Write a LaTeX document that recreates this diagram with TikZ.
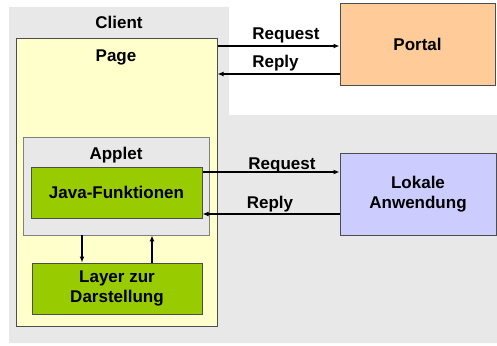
\documentclass[tikz,border=0pt]{standalone}
\usepackage{fontspec}
\setmainfont{Liberation Sans}
\usetikzlibrary{arrows.meta}
\definecolor{bggrey}{HTML}{E8E8E8}
\definecolor{pageyellow}{HTML}{FFFFCC}
\definecolor{jgreen}{HTML}{99CC00}
\definecolor{portalc}{HTML}{FFCC99}
\definecolor{lokalc}{HTML}{CCCCFF}
\definecolor{edgec}{HTML}{4D4D4D}
\tikzset{
  lbl/.style={anchor=base, inner sep=0pt, font=\fontsize{17}{20}\selectfont\bfseries},
  boxnode/.style={draw=edgec, line width=1pt, inner sep=0pt, align=center,
     font=\fontsize{17}{20.5}\selectfont\bfseries},
  arr/.style={line width=1.2pt, -{Latex[length=6pt,width=5pt]}},
}
\begin{document}
\begin{tikzpicture}[x=1pt,y=-1pt]
\useasboundingbox (0,0) rectangle (497,345);
% grey background
\fill[bggrey] (9,7) -- (229,7) -- (229,115) -- (497,115) -- (497,343) -- (9,343) -- cycle;
% page
\node[boxnode, fill=pageyellow, minimum width=201pt, minimum height=287pt] (page) at (116.5,182.5) {};
% applet
\node[draw=gray, line width=0.8pt, fill=bggrey, minimum width=186pt, minimum height=98pt, inner sep=0pt] (applet) at (116,186) {};
% java
\node[boxnode, fill=jgreen, minimum width=171pt, minimum height=51pt] (java) at (116.5,192.5) {Java-Funktionen};
% layer
\node[boxnode, fill=jgreen, minimum width=170pt, minimum height=51pt] (layer) at (117,288.5) {Layer zur\\Darstellung};
% portal
\node[boxnode, fill=portalc, minimum width=155pt, minimum height=81pt] (portal) at (417.5,44.5) {Portal};
% lokale
\node[boxnode, fill=lokalc, minimum width=156pt, minimum height=82pt] (lokal) at (418,194) {Lokale\\Anwendung};
% labels
\node[lbl] (client) at (119,29) {Client};
\node[lbl] (pagelbl) at (116,61.5) {Page};
\node[lbl] (appletlbl) at (116,159) {Applet};
\node[lbl] (req1) at (286,39.5) {Request};
\node[lbl] (rep1) at (275.5,67) {Reply};
\node[lbl] (req2) at (282,169.3) {Request};
\node[lbl] (rep2) at (270,208.7) {Reply};
% connectors
\draw[arr] (page.east |- {(0,46)}) -- (portal.west |- {(0,46)});
\draw[arr] (portal.west |- {(0,74)}) -- (page.east |- {(0,74)});
\draw[arr] (java.east |- {(0,172)}) -- (lokal.west |- {(0,172)});
\draw[arr] (lokal.west |- {(0,214)}) -- (java.east |- {(0,214)});
\draw[arr] (applet.south -| {(82,0)}) -- (layer.north -| {(82,0)});
\draw[arr] (layer.north -| {(152,0)}) -- (applet.south -| {(152,0)});
\end{tikzpicture}
\end{document}
